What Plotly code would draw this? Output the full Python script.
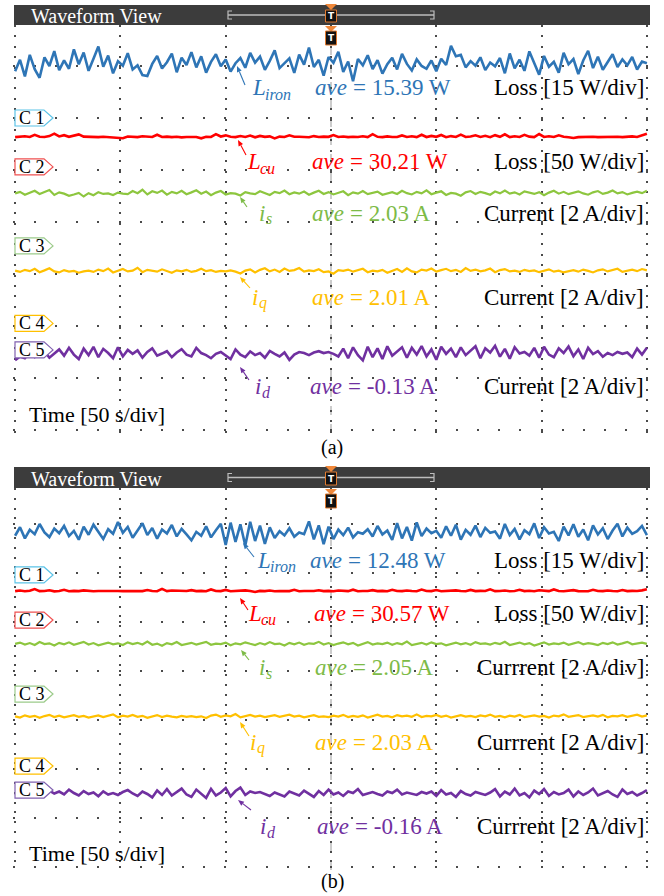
import numpy as np
import plotly.graph_objects as go

# ---------------- data ----------------
channel_names = ["C 1", "C 2", "C 3", "C 4", "C 5"]
symbol_main = ["L", "L", "i", "i", "i"]
symbol_sub = ["iron", "cu", "s", "q", "d"]
units = ["W", "W", "A", "A", "A"]
volts_per_div = [15, 50, 2, 2, 2]
quantity_a = ["Loss", "Loss", "Current", "Current", "Current"]
quantity_b = ["Loss", "Loss", "Currrent", "Currrent", "Currrent"]
ave_a = [15.39, 30.21, 2.03, 2.01, -0.13]
ave_b = [12.48, 30.57, 2.05, 2.03, -0.16]
time_per_div = 50
n_div = 6
panel_labels = ["(a)", "(b)"]

L_iron_a = [13.5, 16.8, 12.0, 18.2, 14.1, 11.6, 17.5, 15.0, 19.3, 13.8, 16.6, 14.2, 19.8, 15.5, 18.9, 13.6, 17.1, 20.6, 14.8, 18.0,
            12.9, 16.4, 15.1, 18.7, 14.0, 15.2, 12.4, 12.1, 15.6, 17.9, 14.3, 16.1, 18.6, 13.2, 17.4, 15.3, 19.0, 14.6, 17.8, 13.1,
            16.2, 18.4, 14.9, 16.9, 13.4, 15.8, 17.3, 14.5, 18.8, 16.0, 17.7, 13.9, 16.5, 19.5, 14.4, 15.7, 17.2, 13.0, 18.3, 15.4,
            20.3, 14.7, 16.8, 12.2, 17.6, 15.9, 19.1, 13.3, 16.3, 10.6, 17.0, 15.2, 18.1, 14.1, 16.7, 12.8, 15.5, 17.4, 14.0, 18.5,
            15.6, 13.7, 16.9, 15.0, 14.2, 16.6, 13.5, 17.1, 15.3, 20.8, 17.8, 18.2, 14.6, 16.4, 15.1, 17.5, 13.8, 16.0, 14.9, 17.3,
            12.9, 18.6, 14.3, 16.8, 13.6, 19.2, 15.8, 12.5, 17.9, 14.8, 16.2, 13.1, 18.8, 15.5, 17.0, 12.7, 16.6, 19.4, 14.4, 17.7,
            13.9, 16.1, 18.4, 14.7, 16.9, 15.2, 17.6, 14.0, 16.3, 15.8]
L_cu_a = [28.6, 28.9, 29.4, 28.7, 30.8, 29.0, 28.8, 29.6, 31.9, 29.3, 30.5, 28.9, 29.8, 31.2, 29.1, 28.7, 28.8, 28.6, 29.0, 28.7,
          28.9, 28.5, 27.6, 29.2, 28.8, 28.6, 29.4, 28.9, 28.7, 30.9, 28.8, 29.1, 28.6, 28.9, 28.4, 28.8, 29.0, 28.7, 27.5, 29.0,
          28.8, 31.5, 29.2, 30.3, 28.9, 28.6, 29.7, 28.8, 30.1, 28.4, 29.8, 28.9, 29.3, 27.4, 29.1, 28.8, 30.4, 28.9, 29.0, 28.7,
          28.5, 29.6, 28.8, 29.1, 28.9, 30.6, 28.7, 29.2, 28.6, 28.9, 28.8, 29.5, 28.7, 31.4, 28.9, 28.6, 29.3, 28.8, 28.7, 30.2,
          28.8, 29.4, 28.6, 30.9, 28.7, 29.8, 28.9, 30.7, 28.5, 29.6, 28.8, 31.0, 28.7, 29.2, 30.4, 28.8, 29.9, 28.6, 30.5, 28.9,
          31.3, 28.7, 29.4, 28.8, 30.8, 29.1, 28.6, 31.6, 28.8, 29.5, 28.7, 30.3, 28.9, 28.5, 27.8, 28.6, 28.8, 28.7, 29.0, 28.6,
          28.8, 28.7, 29.1, 28.9, 28.6, 28.8, 29.3, 28.7, 30.6, 31.8]
i_s_a = [2.02, 2.08, 1.97, 2.05, 2.12, 2.00, 2.09, 2.15, 1.96, 2.06, 2.01, 1.93, 1.98, 2.04, 1.90, 2.03, 1.95, 2.07, 2.00, 2.02,
         1.96, 2.05, 2.01, 1.99, 2.11, 2.03, 2.16, 1.98, 2.10, 2.04, 2.13, 1.97, 2.08, 2.02, 2.12, 1.99, 2.06, 2.14, 2.01, 2.09,
         1.95, 2.05, 2.11, 1.98, 2.03, 2.01, 1.94, 2.07, 2.02, 1.99, 2.10, 2.04, 1.96, 2.08, 2.03, 2.13, 1.99, 2.06, 2.01, 2.09,
         1.97, 2.05, 2.12, 2.00, 2.07, 1.98, 2.03, 2.10, 1.95, 2.06, 2.01, 2.11, 1.99, 2.04, 2.09, 1.97, 2.02, 2.07, 2.00, 2.12,
         2.03, 1.98, 2.08, 2.02, 2.14, 1.99, 2.05, 2.10, 1.96, 2.04, 2.01, 1.93, 2.06, 2.11, 2.00, 2.08, 2.03, 1.97, 2.09, 2.02,
         2.13, 2.01, 2.06, 1.98, 2.10, 2.04, 2.00, 2.07, 1.95, 2.05, 2.12, 2.01, 2.08, 1.99, 2.04, 2.10, 2.02, 1.97, 2.06, 2.11,
         2.00, 2.05, 2.13, 2.02, 2.07, 1.98, 2.04, 2.09, 2.03, 2.12]
i_q_a = [2.03, 1.98, 2.06, 2.01, 2.10, 1.97, 2.04, 2.12, 2.00, 1.96, 2.05, 1.99, 2.02, 1.95, 2.00, 2.03, 1.98, 2.07, 2.01, 2.11,
         1.96, 2.04, 2.09, 2.00, 2.03, 2.14, 1.97, 2.06, 2.02, 1.99, 2.08, 2.01, 1.95, 2.04, 2.00, 2.06, 1.98, 2.02, 2.10, 2.01,
         2.05, 1.98, 2.02, 2.00, 2.04, 1.99, 1.92, 2.03, 2.08, 1.96, 2.06, 2.12, 2.00, 2.07, 1.98, 2.11, 2.02, 2.05, 2.13, 1.99,
         2.04, 2.01, 2.08, 1.97, 2.00, 1.91, 2.05, 2.02, 2.07, 1.99, 2.04, 2.10, 1.97, 2.03, 2.00, 2.06, 1.95, 2.02, 2.09, 1.98,
         2.12, 2.00, 1.96, 2.07, 2.03, 2.11, 1.99, 2.05, 2.10, 2.01, 2.06, 1.98, 2.13, 2.02, 2.07, 2.00, 2.04, 2.11, 1.97, 2.05,
         2.09, 2.00, 2.03, 1.98, 2.06, 2.01, 2.04, 1.97, 2.02, 2.08, 1.99, 2.03, 1.96, 2.01, 2.05, 1.99, 2.07, 2.02, 1.96, 2.04,
         2.08, 2.00, 2.06, 2.10, 1.98, 2.03, 2.07, 2.01, 2.09, 2.04]
i_d_a = [-0.40, -0.25, -0.32, -0.10, -0.28, -0.15, -0.05, -0.30, -0.12, 0.02, -0.22, 0.08, -0.18, -0.35, 0.05, -0.20, 0.12, -0.28, 0.04, -0.12,
         -0.32, 0.10, -0.25, 0.00, -0.15, -0.02, -0.30, -0.08, 0.06, -0.22, -0.14, -0.05, -0.28, -0.10, 0.03, -0.18, -0.25, 0.08, -0.12, -0.20,
         -0.32, -0.15, -0.08, -0.22, -0.35, 0.02, -0.18, -0.28, -0.06, -0.20, -0.12, -0.30, -0.04, -0.15, -0.25, -0.10, -0.38, -0.18, -0.08, -0.12,
         -0.20, -0.10, -0.05, -0.12, -0.08, -0.15, -0.25, 0.05, -0.32, 0.10, -0.20, -0.40, 0.12, -0.28, 0.06, -0.35, 0.14, -0.22, -0.05, 0.10,
         -0.30, 0.08, -0.18, 0.15, -0.25, 0.02, -0.38, 0.12, -0.15, 0.05, -0.28, 0.10, -0.20, -0.02, 0.14, -0.32, 0.06, -0.10, 0.16, -0.26,
         0.04, -0.34, 0.10, -0.14, -0.08, -0.22, 0.08, -0.30, 0.12, -0.18, -0.28, 0.06, -0.12, 0.13, -0.24, 0.02, -0.35, 0.08, -0.16, -0.05,
         -0.26, -0.12, -0.20, -0.08, -0.15, -0.10, -0.28, 0.05, -0.18, 0.08]

L_iron_b = [12.0, 14.6, 11.2, 13.8, 12.5, 15.6, 13.0, 11.6, 14.2, 12.8, 15.0, 11.9, 13.5, 10.8, 14.8, 12.3, 15.4, 13.1, 11.0, 14.0,
            12.6, 16.2, 12.9, 14.7, 11.4, 13.6, 15.8, 12.2, 14.4, 11.1, 13.9, 12.7, 15.3, 11.8, 14.1, 12.4, 10.6, 13.2, 12.0, 14.9,
            11.5, 13.7, 15.7, 9.2, 16.0, 10.1, 15.5, 9.0, 16.3, 10.4, 15.1, 9.5, 14.6, 11.3, 13.4, 12.1, 14.3, 11.7, 13.0, 12.5,
            16.4, 10.9, 15.2, 9.4, 14.8, 11.0, 13.9, 12.2, 14.5, 11.5, 13.1, 12.6, 14.0, 11.8, 15.0, 12.4, 13.6, 10.7, 15.9, 11.2,
            14.7, 10.5, 16.1, 11.9, 14.2, 12.8, 13.5, 11.4, 14.9, 12.0, 15.4, 10.8, 13.8, 12.3, 15.1, 11.6, 14.4, 12.9, 13.3, 11.1,
            15.6, 12.2, 14.1, 10.9, 13.7, 12.5, 15.8, 11.3, 14.6, 12.7, 13.2, 10.4, 14.8, 12.1, 15.5, 11.7, 13.9, 10.6, 15.2, 12.4,
            14.3, 11.0, 13.6, 15.7, 11.8, 14.5, 12.6, 13.4, 15.0, 12.2]
L_cu_b = [29.5, 30.2, 29.4, 29.8, 31.6, 29.5, 29.7, 30.4, 29.3, 29.6, 30.9, 29.4, 29.8, 29.5, 30.3, 29.6, 29.4, 29.7, 29.5, 29.9,
          29.4, 29.6, 29.5, 29.8, 29.4, 29.7, 29.5, 30.6, 29.6, 29.4, 31.8, 29.5, 30.1, 29.7, 29.4, 29.6, 30.5, 29.5, 29.8, 29.4,
          31.2, 29.6, 29.5, 30.7, 29.4, 29.8, 29.5, 30.3, 29.6, 28.6, 29.7, 29.5, 30.1, 29.4, 29.6, 29.8, 29.5, 30.8, 29.4, 29.7,
          29.5, 29.6, 30.4, 29.5, 29.8, 29.4, 30.2, 29.6, 29.5, 31.0, 29.4, 29.7, 29.6, 30.5, 29.5, 29.8, 29.4, 30.9, 29.6, 29.5,
          30.2, 29.7, 29.4, 31.1, 29.6, 29.5, 30.6, 29.4, 29.8, 29.5, 30.3, 29.6, 29.4, 30.7, 29.5, 29.8, 29.6, 31.4, 29.5, 29.7,
          30.1, 29.4, 29.6, 30.8, 29.5, 29.9, 29.4, 30.4, 29.6, 29.5, 31.2, 29.7, 29.4, 29.6, 30.5, 29.5, 29.8, 29.4, 30.9, 29.6,
          29.5, 30.2, 29.7, 29.4, 30.6, 29.5, 29.8, 29.6, 30.3, 31.5]
i_s_b = [2.05, 2.10, 2.02, 2.08, 2.00, 2.12, 2.04, 2.07, 1.98, 2.09, 2.03, 2.11, 2.01, 2.06, 2.13, 2.02, 2.08, 1.99, 2.05, 2.10,
         2.03, 2.07, 2.00, 2.11, 2.04, 2.09, 2.02, 2.14, 2.01, 2.06, 1.97, 2.08, 2.03, 2.12, 2.00, 2.05, 2.09, 2.02, 2.07, 2.13,
         2.01, 2.06, 2.04, 2.10, 1.99, 2.07, 2.03, 2.11, 2.05, 2.00, 2.08, 2.02, 2.12, 2.04, 2.06, 1.98, 2.09, 2.03, 2.10, 2.01,
         2.07, 2.05, 2.13, 2.02, 2.08, 2.00, 2.06, 2.11, 2.03, 2.09, 1.98, 2.05, 2.12, 2.02, 2.07, 2.04, 2.10, 2.01, 2.08, 2.03,
         2.14, 2.00, 2.06, 2.09, 2.02, 2.11, 2.04, 2.07, 1.99, 2.05, 2.10, 2.03, 2.08, 2.01, 2.12, 2.05, 2.07, 2.02, 2.09, 2.04,
         2.13, 2.00, 2.06, 2.10, 2.03, 2.08, 1.98, 2.05, 2.11, 2.02, 2.07, 2.04, 2.10, 2.01, 2.06, 2.12, 2.03, 2.08, 2.05, 2.00,
         2.09, 2.04, 2.11, 2.02, 2.07, 2.13, 2.03, 2.06, 2.10, 2.05]
i_q_b = [2.03, 1.98, 2.07, 2.01, 2.05, 1.97, 2.04, 2.09, 2.00, 2.06, 1.99, 2.03, 2.08, 2.01, 2.05, 1.98, 2.02, 2.07, 2.00, 2.04,
         2.11, 1.99, 2.06, 2.02, 2.09, 2.01, 2.05, 1.97, 2.03, 2.08, 2.00, 2.06, 2.02, 1.99, 2.05, 2.01, 2.04, 2.00, 2.03, 1.96,
         2.06, 2.10, 2.01, 2.07, 2.03, 2.12, 1.99, 2.05, 2.09, 2.02, 2.06, 2.00, 2.04, 2.08, 2.01, 2.05, 2.10, 2.02, 2.06, 1.99,
         2.04, 2.08, 2.01, 2.03, 2.00, 2.06, 2.02, 2.09, 2.00, 2.05, 2.01, 2.07, 1.98, 2.04, 2.10, 2.02, 2.05, 1.99, 2.08, 2.03,
         2.06, 2.01, 2.11, 2.00, 2.05, 2.03, 2.09, 2.01, 2.06, 1.98, 2.04, 2.08, 2.02, 2.05, 2.00, 2.07, 2.03, 2.10, 2.01, 2.05,
         1.99, 2.06, 2.02, 2.09, 2.00, 2.04, 2.07, 2.02, 2.05, 1.98, 2.06, 2.03, 2.11, 2.01, 2.05, 2.08, 2.00, 2.04, 2.07, 2.02,
         2.09, 1.99, 2.05, 2.03, 2.08, 2.01, 2.06, 2.10, 2.02, 2.07]
i_d_b = [-0.22, -0.10, -0.18, -0.05, -0.15, -0.08, -0.20, -0.02, -0.14, -0.06, -0.18, 0.02, -0.12, -0.22, -0.04, -0.16, -0.10, -0.25, -0.05, -0.18,
         -0.12, -0.20, -0.08, 0.00, -0.14, -0.24, -0.06, -0.16, -0.30, -0.02, -0.20, 0.04, -0.22, -0.08, 0.06, -0.18, -0.28, 0.02, -0.15, -0.32,
         0.05, -0.22, -0.10, 0.08, -0.26, -0.04, 0.10, -0.20, -0.06, -0.12, -0.08, -0.16, -0.24, -0.10, -0.18, -0.26, -0.06, -0.14, -0.22, -0.02,
         -0.16, -0.28, -0.04, -0.20, 0.02, -0.18, -0.10, -0.24, -0.06, -0.12, 0.04, -0.20, -0.14, -0.08, -0.16, -0.22, -0.06, -0.12, 0.02, -0.18,
         -0.10, -0.15, -0.20, -0.08, -0.14, -0.06, -0.24, 0.00, -0.18, -0.12, -0.28, -0.04, -0.16, -0.22, -0.08, -0.14, -0.20, -0.10, 0.04, -0.26,
         -0.06, -0.18, 0.06, -0.22, -0.12, -0.30, -0.02, -0.16, 0.04, -0.24, -0.08, -0.18, -0.12, 0.02, -0.26, -0.06, -0.20, -0.10, 0.06, -0.22,
         -0.14, -0.04, -0.18, -0.28, 0.02, -0.16, -0.08, -0.22, -0.12, 0.00]

signals_a = [L_iron_a, L_cu_a, i_s_a, i_q_a, i_d_a]
signals_b = [L_iron_b, L_cu_b, i_s_b, i_q_b, i_d_b]

# ---------------- style / layout ----------------
W, H = 664, 896
SERIF = "Liberation Serif, Times New Roman, serif"
trace_colors = ["#2E75B6", "#FF0000", "#8DC63F", "#FFC000", "#7030A0"]
text_colors = ["#2E75B6", "#FF0000", "#7DBB47", "#FFC000", "#7030A0"]
marker_colors = ["#5BC3E8", "#F05050", "#9CCB8A", "#FFC000", "#8060B0"]
line_widths = [2.6, 2.6, 2.2, 2.2, 2.6]
main_w = {"L": 13, "i": 7}
FS = 23


def px_x(x):
    return x / W


def px_y(y):
    return 1 - y / H


panels = [
    dict(sig=signals_a, ave=ave_a, qty=quantity_a, xa="x", ya="y", bottom=433, top=25, row0=430, ppd=52,
         header=(5, 25), markers=[6.0, 5.06, 3.54, 2.05, 1.54],
         text_y=[88, 162, 213, 297, 386], sym_x=[250, 245, 257, 250, 253], ave_x=[313, 310, 310, 310, 308],
         tips=[(237, 66), (238, 140), (240, 197), (240, 277), (240, 367)],
         tails=[(245, 85), (246, 155), (247, 207), (250, 288), (249, 380)],
         time_y=414, label_y=447),
    dict(sig=signals_b, ave=ave_b, qty=quantity_b, xa="x2", ya="y2", bottom=870, top=488, row0=867, ppd=49,
         header=(467, 488), markers=[5.96, 5.04, 3.53, 2.06, 1.57],
         text_y=[560, 613, 667, 742, 826], sym_x=[255, 246, 257, 248, 258], ave_x=[308, 312, 313, 313, 315],
         tips=[(243, 543), (240, 598), (241, 650), (240, 722), (238, 800)],
         tails=[(254, 557), (248, 610), (249, 660), (249, 736), (251, 810)],
         time_y=853, label_y=881),
]

X0_PX, X1_PX = 13, 649
x_range = [-1, n_div * time_per_div + 1]

fig = go.Figure()
shapes = []
annotations = []
layout_axes = {}


def label(text, x, y, size, color, xanchor="left", style="normal", weight="normal", family=SERIF):
    annotations.append(dict(text=text, xref="paper", yref="paper", x=px_x(x), y=px_y(y),
                            xanchor=xanchor, yanchor="middle", showarrow=False,
                            font=dict(family=family, size=size, color=color, style=style, weight=weight)))


for pi, p in enumerate(panels):
    suffix = "" if pi == 0 else "2"
    ylo = -(p["bottom"] - p["row0"]) / p["ppd"]
    yhi = (p["row0"] - p["top"]) / p["ppd"]
    layout_axes["xaxis" + suffix] = dict(
        domain=[px_x(X0_PX), px_x(X1_PX)], range=x_range, anchor="y" + suffix,
        showgrid=True, tick0=0, dtick=time_per_div, gridcolor="#4a4a4a", gridwidth=2,
        griddash="2px,%.1fpx" % (p["ppd"] / 5 - 2),
        showticklabels=False, ticks="", zeroline=False, showline=False, fixedrange=True)
    layout_axes["yaxis" + suffix] = dict(
        domain=[px_y(p["bottom"]), px_y(p["top"])], range=[ylo, yhi], anchor="x" + suffix,
        showgrid=True, tick0=0, dtick=1, gridcolor="#4a4a4a", gridwidth=2,
        griddash="2px,%.1fpx" % ((X1_PX - X0_PX) / (x_range[1] - x_range[0]) * time_per_div / 5 - 2),
        showticklabels=False, ticks="", zeroline=False, showline=False, fixedrange=True)

    # traces
    for ci in range(5):
        vals = np.array(p["sig"][ci], dtype=float)
        t = np.linspace(0, n_div * time_per_div, len(vals))
        y = p["markers"][ci] + vals / volts_per_div[ci]
        fig.add_trace(go.Scatter(x=t, y=y, mode="lines", xaxis=p["xa"], yaxis=p["ya"],
                                 line=dict(color=trace_colors[ci], width=line_widths[ci]),
                                 hoverinfo="skip", showlegend=False))

    # trigger dashed line
    shapes.append(dict(type="line", xref=p["xa"], yref="paper", x0=n_div * time_per_div / 2,
                       x1=n_div * time_per_div / 2, y0=px_y(p["bottom"]), y1=px_y(p["top"] + 20),
                       line=dict(color="#9a9a9a", width=1, dash="dash"), layer="below"))

    # header bar
    h0, h1 = p["header"]
    shapes.append(dict(type="rect", xref="paper", yref="paper", x0=px_x(14), x1=px_x(650),
                       y0=px_y(h1), y1=px_y(h0), fillcolor="#3C3C3C", line=dict(width=0)))
    hm = (h0 + h1) / 2
    shapes.append(dict(type="line", xref="paper", yref="paper", x0=px_x(228), x1=px_x(434),
                       y0=px_y(hm), y1=px_y(hm), line=dict(color="#BDBDBD", width=1.5)))
    for bx, dx in [(228, 4), (434, -4)]:
        shapes.append(dict(type="path", xref="paper", yref="paper",
                           path="M %f %f L %f %f L %f %f L %f %f" % (
                               px_x(bx + dx), px_y(hm - 4), px_x(bx), px_y(hm - 4),
                               px_x(bx), px_y(hm + 4), px_x(bx + dx), px_y(hm + 4)),
                           line=dict(color="#BDBDBD", width=1.2)))
    label("Waveform View", 29, hm + 1, 20, "white")
    # trigger markers (in header and below header)
    for (ty0, by0, by1) in [(h0 - 1, h0 + 5, h1 - 3), (h1 + 1, h1 + 6, h1 + 20)]:
        shapes.append(dict(type="path", xref="paper", yref="paper",
                           path="M %f %f L %f %f L %f %f Z" % (px_x(325), px_y(ty0), px_x(337), px_y(ty0),
                                                               px_x(331), px_y(ty0 + 6)),
                           fillcolor="#F0883A", line=dict(width=0)))
        shapes.append(dict(type="rect", xref="paper", yref="paper", x0=px_x(325.5), x1=px_x(336.5),
                           y0=px_y(by1), y1=px_y(by0), fillcolor="#111111",
                           line=dict(color="#E07B30", width=1)))
        label("T", 331, (by0 + by1) / 2, 9, "white", xanchor="center", weight="bold", family="DejaVu Sans")

    # channel markers
    hh = 8 / p["ppd"]
    for ci in range(5):
        m = p["markers"][ci]
        shapes.append(dict(type="path", xref="paper", yref=p["ya"],
                           path="M %f %f L %f %f L %f %f L %f %f L %f %f Z" % (
                               px_x(15), m + hh, px_x(44), m + hh, px_x(53), m,
                               px_x(44), m - hh, px_x(15), m - hh),
                           fillcolor="white", line=dict(color=marker_colors[ci], width=1.2), layer="above"))
        annotations.append(dict(text=channel_names[ci], xref="paper", yref=p["ya"], x=px_x(17), y=m,
                                xanchor="left", yanchor="middle", showarrow=False,
                                font=dict(family=SERIF, size=18, color="black")))

    # labels and arrows
    for ci in range(5):
        ty = p["text_y"][ci]
        sx0 = p["sym_x"][ci]
        col = text_colors[ci]
        label(symbol_main[ci], sx0, ty, FS, col, style="italic")
        label(symbol_sub[ci], sx0 + main_w[symbol_main[ci]], ty + 6, 16, col, style="italic")
        ax0 = p["ave_x"][ci]
        label("ave", ax0, ty, FS, col, style="italic")
        label("= %.2f %s" % (p["ave"][ci], units[ci]), ax0 + 38, ty, FS, col)
        label("%s [%d %s/div]" % (p["qty"][ci], volts_per_div[ci], units[ci]), 646, ty, FS, "black",
              xanchor="right")
        (tx, tyy), (sx, sy) = p["tips"][ci], p["tails"][ci]
        dxp, dyp = tx - sx, tyy - sy
        ln = (dxp ** 2 + dyp ** 2) ** 0.5
        ux, uy = dxp / ln, dyp / ln
        nx, ny = -uy, ux
        bx, by = tx - 6 * ux, tyy - 6 * uy
        shapes.append(dict(type="line", xref="paper", yref="paper", x0=px_x(sx), y0=px_y(sy),
                           x1=px_x(bx), y1=px_y(by), line=dict(color=col, width=1.1)))
        shapes.append(dict(type="path", xref="paper", yref="paper",
                           path="M %f %f L %f %f L %f %f Z" % (
                               px_x(tx), px_y(tyy), px_x(bx + 2.5 * nx), px_y(by + 2.5 * ny),
                               px_x(bx - 2.5 * nx), px_y(by - 2.5 * ny)),
                           fillcolor=col, line=dict(width=0)))
    label("Time [%d s/div]" % time_per_div, 27, p["time_y"], 22, "black")
    label(panel_labels[pi], 332, p["label_y"], 20, "black", xanchor="center")

fig.update_layout(width=W, height=H, margin=dict(l=0, r=0, t=0, b=0, pad=0),
                  paper_bgcolor="white", plot_bgcolor="white", showlegend=False,
                  shapes=shapes, annotations=annotations, **layout_axes)
fig.write_html("out.html")
